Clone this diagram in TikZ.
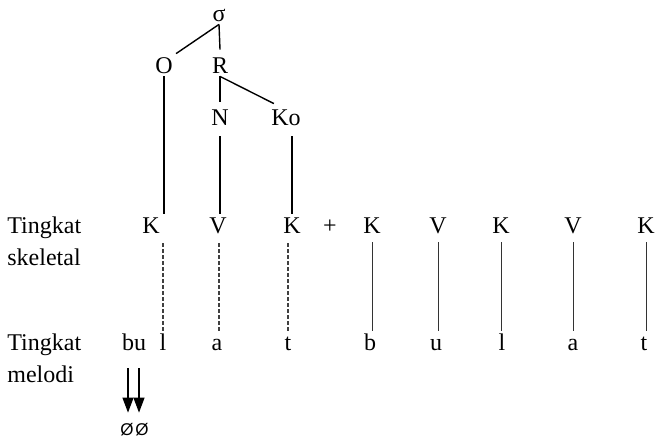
\documentclass[tikz,border=0pt]{standalone}
\usepackage{fontspec}
\setmainfont{Liberation Serif}
\newfontfamily\slashfont{Liberation Sans}
\usetikzlibrary{calc,positioning,arrows.meta}
\tikzstyle{seg}       = [anchor=base, inner sep=1.5pt, text height=8pt, text depth=0pt]
\tikzstyle{label}     = [anchor=base west, inner sep=0pt]
\tikzstyle{link}      = [line width=0.7pt]
\tikzstyle{thinlink}  = [line width=0.5pt, black!80]
\tikzstyle{dotlink}   = [line width=0.6pt, black!75, dash pattern=on 2pt off 1pt]
\tikzstyle{fall}      = [line width=0.6pt, -{Triangle[width=5.5pt,length=7.5pt]}]

\begin{document}
\begin{tikzpicture}[x=0.5pt,y=-0.5pt,font=\fontsize{12}{16}\selectfont]
    \useasboundingbox (0,0) rectangle (656,441);

    % syllable tree
    \node[seg] (sigma) at (219,21) {σ};
    \node[seg] (O)  at (164,73)  {O};
    \node[seg] (R)  at (220,73)  {R};
    \node[seg] (N)  at (220,125) {N};
    \node[seg] (Ko) at (286,125) {Ko};

    % skeletal tier
    \node[label] (tk1) at (7,233) {Tingkat};
    \node[label] (skel) at (7,265) {skeletal};
    \node[seg] (k1) at (151,233) {K};
    \node[seg] (v1) at (218,233) {V};
    \node[seg] (k2) at (292,233) {K};
    \node[seg] (plus) at (330,233) {+};
    \node[seg] (k3) at (372,233) {K};
    \node[seg] (v2) at (438,233) {V};
    \node[seg] (k4) at (501,233) {K};
    \node[seg] (v3) at (573,233) {V};
    \node[seg] (k5) at (646,233) {K};

    % melodic tier
    \node[label] (tk2) at (7,350) {Tingkat};
    \node[label] (mel) at (7,382) {melodi};
    \node[seg] (bu) at (134,350) {bu};
    \node[seg] (l1) at (163,350) {l};
    \node[seg] (a1) at (217,350) {a};
    \node[seg] (t1) at (288,350) {t};
    \node[seg] (b2) at (370,350) {b};
    \node[seg] (u2) at (436,350) {u};
    \node[seg] (l2) at (502,350) {l};
    \node[seg] (a2) at (573,350) {a};
    \node[seg] (t2) at (644,350) {t};

    % deleted segments
    \node[seg, font=\slashfont\fontsize{8.5}{10}\selectfont] (z1) at (127,435) {Ø};
    \node[seg, font=\slashfont\fontsize{8.5}{10}\selectfont] (z2) at (142,435) {Ø};

    \draw[link] (sigma.south) -- (O.north east);
    \draw[link] (sigma.south) -- ([yshift=2pt]R.north);
    \draw[link] (R.south) -- ([yshift=2pt]N.north);
    \draw[link] (R.south) -- ([xshift=3pt,yshift=1pt]Ko.north west);

    \draw[link] (O.south) -- (O.south |- k1.north);
    \draw[link, shorten <=4pt] (N.south) -- (N.south |- v1.north);
    \draw[link, shorten <=4pt] (k2.north |- Ko.south) -- (k2.north);

    \draw[dotlink, shorten <=3.5pt] (l1.north |- k1.south) -- (l1.north);
    \draw[dotlink, shorten <=3.5pt] ([xshift=1pt]a1.north |- v1.south) -- ([xshift=1pt]a1.north);
    \draw[dotlink, shorten <=3.5pt] (t1.north |- k2.south) -- (t1.north);

    \draw[thinlink, shorten <=3pt] (k3.south) -- (k3.south |- b2.north);
    \draw[thinlink, shorten <=3pt] (v2.south) -- (v2.south |- u2.north);
    \draw[thinlink, shorten <=3pt] (k4.south) -- (k4.south |- l2.north);
    \draw[thinlink, shorten <=3pt] (v3.south) -- (v3.south |- a2.north);
    \draw[thinlink, shorten <=3pt] (k5.south) -- (k5.south |- t2.north);

    \draw[fall, shorten <=7.5pt, shorten >=1.5pt] ([xshift=-3pt]bu.south) -- ([xshift=-3pt]bu.south |- z1.north);
    \draw[fall, shorten <=7.5pt, shorten >=1.5pt] ([xshift=2.5pt]bu.south) -- ([xshift=2.5pt]bu.south |- z2.north);
\end{tikzpicture}
\end{document}
